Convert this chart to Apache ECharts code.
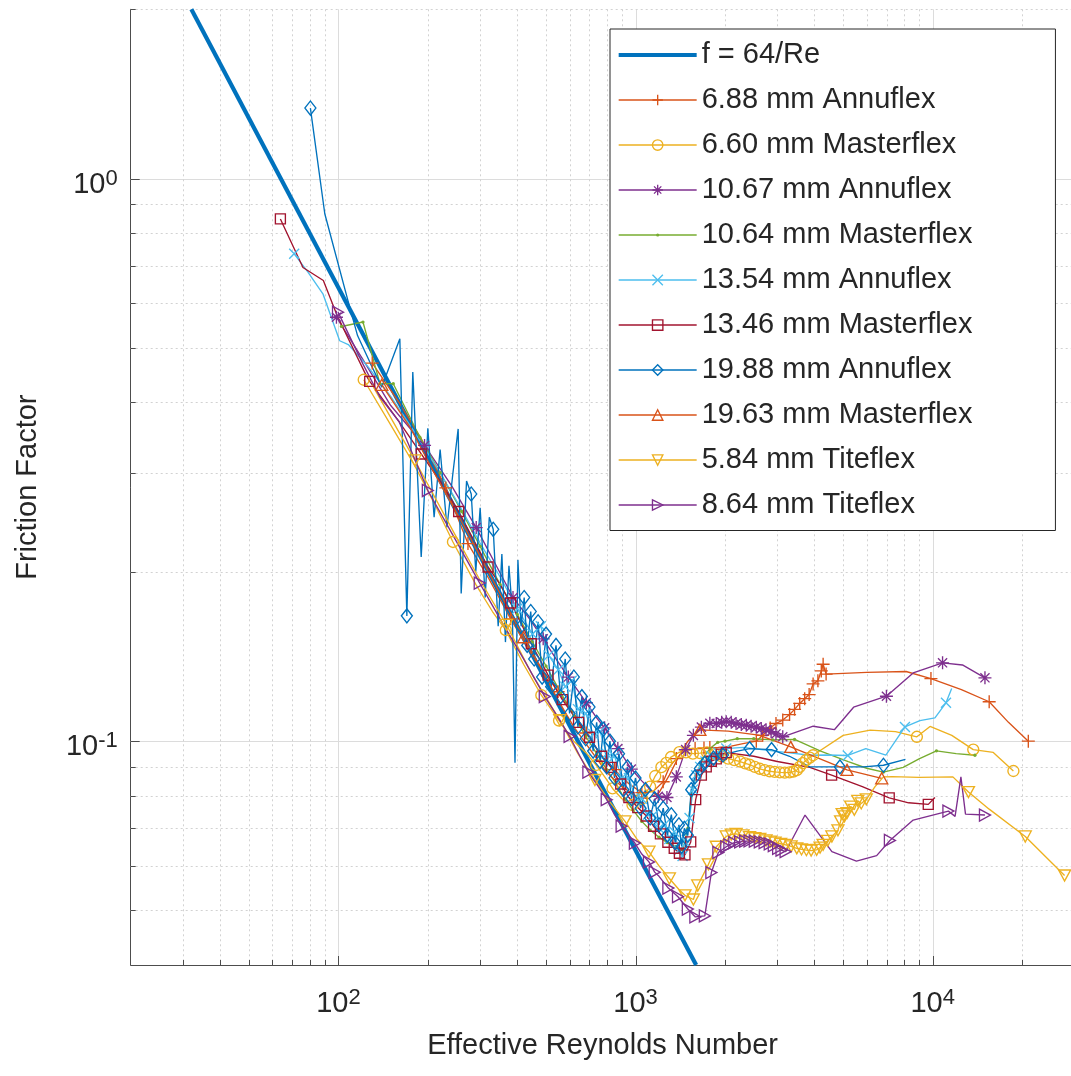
<!DOCTYPE html>
<html><head><meta charset="utf-8">
<script src="https://cdn.jsdelivr.net/npm/echarts@6/dist/echarts.min.js"></script>
<style>html,body{margin:0;padding:0;background:#fff}#c{width:1071px;height:1076px}</style>
</head><body><div id="c"></div>
<script>
// ---------- axis ticks ----------
const xMajorTicks = [100, 1000, 10000];
const yMajorTicks = [0.1, 1];
const xMinorTicks = [30,40,50,60,70,80,90,200,300,400,500,600,700,800,900,2000,3000,4000,5000,6000,7000,8000,9000,20000];
const yMinorTicks = [0.05,0.06,0.07,0.08,0.09,0.2,0.3,0.4,0.5,0.6,0.7,0.8,0.9,2];

// ---------- series names ----------
const seriesNames = ['f = 64/Re','6.88 mm Annuflex','6.60 mm Masterflex','10.67 mm Annuflex','10.64 mm Masterflex','13.54 mm Annuflex','13.46 mm Masterflex','19.88 mm Annuflex','19.63 mm Masterflex','5.84 mm Titeflex','8.64 mm Titeflex'];

// ---------- data: [Re, f, marker shown (1/0)] ----------
const laminar = [[32, 2.0], [1600, 0.04]];

const annu688 = [[130,0.47,1],[160,0.40,0],[190,0.345,0],[230,0.282,1],[273,0.2245,1],[320,0.195,0],[380,0.165,1],[450,0.142,0],[549,0.1224,1],[620,0.112,0],[683,0.1034,1],[760,0.095,0],[850,0.089,1],[950,0.084,0],[1050,0.081,1],[1150,0.0815,0],[1239,0.0847,1],[1300,0.090,0],[1372,0.0931,1],[1470,0.0965,1],[1587,0.097,1],[1700,0.0972,1],[1779,0.0974,1],[1900,0.0975,0],[2100,0.098,0],[2300,0.099,0],[2550,0.100,1],[2680,0.1024,1],[2840,0.1055,1],[2970,0.1075,1],[3130,0.109,1],[3300,0.1115,1],[3430,0.1139,1],[3570,0.1167,1],[3710,0.119,1],[3840,0.121,1],[3960,0.1264,1],[4110,0.128,1],[4220,0.1333,1],[4280,0.137,1],[4380,0.1316,1],[6000,0.1325,0],[8140,0.133,0],[9870,0.1292,1],[12500,0.1235,0],[15500,0.1175,1],[18000,0.108,0],[20990,0.1,1]];

const master660 = [[121.7,0.439,1],[150,0.365,0],[180,0.31,0],[210,0.265,0],[243,0.226,1],[290,0.19,0],[330,0.17,0],[366,0.1575,1],[420,0.137,0],[482,0.1207,1],[553,0.1088,1],[620,0.100,0],[680,0.0955,0],[737,0.0907,1],[790,0.0862,0],[837,0.0824,1],[900,0.079,0],[977,0.077,1],[1050,0.079,1],[1120,0.083,1],[1165,0.0867,1],[1222,0.0899,1],[1270,0.0915,1],[1317,0.0937,1],[1405,0.0956,1],[1480,0.0955,1],[1560,0.095,1],[1650,0.0952,1],[1740,0.0955,1],[1850,0.0948,1],[1950,0.094,1],[2050,0.0931,1],[2150,0.0925,1],[2250,0.092,1],[2340,0.0913,1],[2420,0.0908,1],[2520,0.090,1],[2620,0.0893,1],[2720,0.0888,1],[2830,0.0884,1],[2940,0.0882,1],[3060,0.088,1],[3180,0.0879,1],[3300,0.088,1],[3400,0.0883,1],[3490,0.0888,1],[3570,0.090,1],[3660,0.0914,1],[3750,0.0925,1],[3860,0.0935,1],[3960,0.0944,1],[5000,0.1024,0],[6160,0.1046,0],[7500,0.104,0],[8850,0.1018,1],[9800,0.1062,0],[11600,0.1024,0],[13700,0.0966,1],[16000,0.0955,0],[18700,0.0885,1]];

const annu1067 = [[98.5,0.567,1],[120,0.48,0],[150,0.395,0],[195,0.3355,1],[240,0.285,0],[291,0.2397,1],[340,0.205,0],[387,0.180,1],[440,0.165,0],[489,0.152,1],[540,0.140,0],[594,0.130,1],[640,0.123,0],[683,0.117,1],[740,0.110,0],[787,0.1056,1],[830,0.101,0],[872,0.097,1],[920,0.093,0],[968,0.0892,1],[1050,0.085,0],[1120,0.082,0],[1193,0.0798,1],[1276,0.0794,1],[1372,0.0864,1],[1475,0.0966,1],[1566,0.1024,1],[1666,0.1059,1],[1779,0.1076,1],[1870,0.1075,1],[1950,0.108,1],[2020,0.1083,1],[2100,0.108,1],[2180,0.1075,1],[2270,0.107,1],[2360,0.1067,1],[2450,0.1063,1],[2550,0.1059,1],[2650,0.1053,1],[2750,0.1048,1],[2860,0.104,1],[2970,0.103,1],[3130,0.1018,1],[3963,0.1063,0],[4670,0.1048,0],[5420,0.1149,0],[6990,0.1202,1],[8600,0.1322,0],[10800,0.1378,1],[12600,0.1366,0],[15000,0.1296,1]];

const master1064 = [[102.4,0.546,1],[121,0.556,1],[138,0.432,1],[153,0.432,1],[188,0.347,1],[220,0.30,1],[260,0.256,1],[300,0.222,1],[350,0.19,1],[400,0.168,1],[450,0.15,1],[500,0.136,1],[560,0.122,1],[620,0.111,1],[680,0.102,1],[740,0.095,1],[800,0.089,1],[860,0.084,1],[920,0.079,1],[980,0.0755,1],[1050,0.072,1],[1120,0.0695,1],[1200,0.0675,1],[1280,0.066,1],[1360,0.065,1],[1443,0.064,1],[1500,0.070,1],[1540,0.080,1],[1600,0.087,1],[1680,0.093,1],[1780,0.097,1],[1890,0.0995,1],[2000,0.100,1],[2200,0.101,1],[2500,0.101,1],[2900,0.1005,1],[3430,0.1007,1],[4200,0.096,0],[5200,0.092,0],[6000,0.0895,0],[6830,0.0881,1],[7960,0.0898,0],[9000,0.093,0],[10300,0.0961,1],[12000,0.095,0],[13880,0.0944,1]];

const annu1354 = [[71,0.735,1],[79,0.682,0],[88.7,0.624,0],[101,0.515,0],[108,0.507,0],[125,0.465,0],[150,0.41,0],[180,0.355,0],[220,0.30,0],[260,0.258,0],[300,0.225,0],[350,0.196,0],[400,0.172,1],[450,0.155,1],[480,0.16,1],[510,0.142,1],[550,0.134,1],[580,0.125,1],[610,0.128,1],[640,0.114,1],[680,0.112,1],[720,0.103,1],[760,0.104,1],[800,0.095,1],[850,0.094,1],[900,0.086,1],[950,0.086,1],[1000,0.079,1],[1050,0.079,1],[1100,0.074,1],[1150,0.074,1],[1200,0.07,1],[1250,0.071,1],[1300,0.067,1],[1350,0.069,1],[1400,0.064,1],[1440,0.0625,1],[1480,0.066,1],[1520,0.073,1],[1560,0.082,1],[1600,0.087,1],[1650,0.09,1],[1720,0.092,1],[1800,0.094,1],[1900,0.0955,1],[2020,0.097,1],[2300,0.0975,0],[2700,0.0965,0],[3200,0.0955,0],[3860,0.0944,0],[4400,0.0945,0],[5180,0.0943,1],[5960,0.097,0],[6960,0.0944,0],[8070,0.106,1],[9060,0.1088,0],[10180,0.110,0],[11090,0.117,1],[11590,0.124,0]];

const master1346 = [[63.8,0.848,1],[76,0.695,0],[89,0.659,0],[98.5,0.575,0],[106,0.53,0],[124,0.447,0],[127.5,0.436,1],[160,0.37,0],[190,0.324,1],[220,0.29,0],[254,0.256,1],[285,0.228,0],[319,0.204,1],[350,0.19,0],[380,0.176,1],[446,0.149,1],[508,0.131,1],[567,0.1185,1],[643,0.108,1],[700,0.1016,1],[769,0.094,1],[828,0.0898,1],[892,0.0839,1],[950,0.0794,1],[1018,0.0762,1],[1088,0.0736,1],[1150,0.0706,1],[1213,0.0684,1],[1285,0.0661,1],[1350,0.0645,1],[1405,0.0632,1],[1467,0.0628,1],[1534,0.0662,1],[1594,0.0787,1],[1666,0.087,1],[1730,0.090,1],[1800,0.0921,1],[1870,0.093,1],[1944,0.0948,1],[2020,0.0954,1],[2500,0.094,0],[3000,0.092,0],[3860,0.0898,0],[4571,0.087,1],[5800,0.083,0],[7143,0.0793,1],[8300,0.0777,0],[9668,0.0772,1],[10180,0.0794,0]];

const annu1988 = [[80.5,1.335,1],[90,0.866,0],[107.7,0.607,0],[116,0.526,0],[128,0.47,0],[140,0.426,0],[161,0.519,0],[170,0.167,1],[178,0.453,0],[190,0.2125,0],[200,0.36,0],[210,0.25,0],[220,0.33,0],[232,0.24,0],[243,0.30,0],[253,0.359,0],[259,0.183,0],[270,0.29,0],[280,0.275,1],[290,0.20,0],[300,0.26,0],[312,0.18,0],[322,0.25,0],[332,0.238,1],[345,0.16,0],[355,0.215,0],[365,0.15,0],[375,0.205,0],[385,0.17,0],[393,0.0915,0],[402,0.21,0],[412,0.16,1],[422,0.18,1],[432,0.148,1],[444,0.17,1],[456,0.14,1],[470,0.163,1],[485,0.13,1],[500,0.155,1],[520,0.125,1],[540,0.148,1],[560,0.12,1],[580,0.14,1],[600,0.112,1],[620,0.13,1],[640,0.106,1],[660,0.12,1],[680,0.101,1],[700,0.115,1],[720,0.096,1],[740,0.108,1],[760,0.092,1],[780,0.105,1],[800,0.09,1],[820,0.1,1],[850,0.086,1],[880,0.095,1],[910,0.082,1],[940,0.09,1],[970,0.079,1],[1000,0.086,1],[1040,0.076,1],[1080,0.082,1],[1120,0.073,1],[1160,0.079,1],[1200,0.071,1],[1240,0.076,1],[1280,0.068,1],[1320,0.074,1],[1360,0.066,1],[1400,0.071,1],[1430,0.065,1],[1460,0.070,1],[1500,0.068,1],[1540,0.082,1],[1585,0.0864,1],[1647,0.0894,1],[1710,0.0914,1],[1830,0.0933,1],[1970,0.0945,1],[2200,0.096,0],[2420,0.097,1],[2870,0.0966,1],[3300,0.094,0],[3860,0.090,0],[4875,0.090,1],[5850,0.090,0],[6830,0.0906,1],[8100,0.0928,0]];

const master1963 = [[140,0.43,1],[175,0.36,0],[210,0.30,0],[255,0.25,0],[300,0.213,0],[360,0.178,0],[420,0.153,1],[480,0.135,0],[550,0.118,0],[620,0.106,0],[700,0.097,0],[800,0.088,0],[900,0.083,0],[1000,0.080,0],[1100,0.079,0],[1200,0.081,0],[1300,0.087,0],[1400,0.094,0],[1500,0.10,0],[1647,0.1047,1],[2050,0.1042,0],[2600,0.1025,0],[3330,0.0977,1],[5150,0.0889,1],[6740,0.0859,1]];

const tite584 = [[130,0.43,0],[181,0.3155,1],[250,0.23,0],[300,0.193,0],[368,0.161,1],[450,0.131,0],[556,0.109,1],[640,0.095,0],[730,0.0853,1],[820,0.078,0],[922,0.072,1],[1010,0.067,0],[1110,0.0636,1],[1200,0.060,0],[1300,0.057,1],[1400,0.0545,0],[1467,0.0532,1],[1566,0.0523,1],[1620,0.0554,1],[1760,0.0604,1],[1870,0.0649,1],[2020,0.0677,1],[2100,0.0682,1],[2180,0.0684,1],[2300,0.068,1],[2420,0.0675,1],[2520,0.0672,1],[2620,0.067,1],[2750,0.0666,1],[2850,0.0663,1],[2950,0.066,1],[3080,0.0657,1],[3200,0.0654,1],[3340,0.065,1],[3490,0.0645,1],[3620,0.0642,1],[3760,0.064,1],[3900,0.0639,1],[4070,0.0641,1],[4180,0.0647,1],[4280,0.0654,1],[4430,0.0665,1],[4580,0.0677,1],[4800,0.0694,1],[4900,0.072,1],[4960,0.0742,1],[5050,0.0735,1],[5150,0.0745,1],[5300,0.0765,1],[5450,0.0755,1],[5600,0.0783,1],[5750,0.0775,1],[5980,0.0788,1],[6400,0.083,0],[6830,0.0864,0],[7300,0.0865,0],[9000,0.0862,0],[11700,0.0864,0],[13200,0.0812,1],[15500,0.0757,0],[20500,0.0677,1],[23500,0.063,0],[27800,0.0577,1]];

const tite864 = [[99.7,0.579,1],[121,0.468,0],[138,0.409,0],[160,0.37,0],[200,0.279,1],[240,0.235,0],[299,0.191,1],[350,0.165,0],[420,0.14,0],[495,0.120,1],[550,0.11,0],[600,0.102,1],[650,0.094,0],[694,0.0881,1],[750,0.083,0],[800,0.0787,1],[850,0.074,0],[898,0.0706,1],[950,0.068,0],[995,0.0659,1],[1050,0.063,0],[1110,0.061,1],[1160,0.0585,1],[1200,0.0575,0],[1290,0.0548,1],[1390,0.0529,1],[1500,0.0503,1],[1590,0.0487,1],[1711,0.0489,1],[1800,0.0584,1],[1900,0.0634,1],[2020,0.0649,1],[2070,0.0654,1],[2150,0.066,1],[2250,0.0662,1],[2340,0.0664,1],[2420,0.0665,1],[2520,0.0664,1],[2620,0.0662,1],[2720,0.066,1],[2830,0.0657,1],[2920,0.0652,1],[3020,0.0645,1],[3100,0.064,1],[3200,0.0636,1],[3720,0.0739,0],[4580,0.0636,0],[5540,0.0612,0],[6480,0.0626,0],[7180,0.0666,1],[8600,0.0724,0],[11300,0.0751,1],[11900,0.0735,0],[12450,0.0864,0],[12900,0.0742,0],[15000,0.0739,1]];

// ---------- styling ----------
const FONT = '"Liberation Sans", Arial, Helvetica, sans-serif';
const TXT = '#262626';
const SYM = {
  plus: 'path://M5,0L5,10M0,5L10,5',
  circle: 'path://M10,5A5,5,0,1,1,0,5A5,5,0,1,1,10,5Z',
  star: 'path://M5,0L5,10M0,5L10,5M1.5,1.5L8.5,8.5M1.5,8.5L8.5,1.5',
  dot: 'path://M0,0L0,0M10,10L10,10M6.5,5A1.5,1.5,0,1,1,3.5,5A1.5,1.5,0,1,1,6.5,5Z',
  cross: 'path://M0,0L10,10M0,10L10,0',
  square: 'path://M0,0L10,0L10,10L0,10Z',
  diamond: 'path://M5,0L10,6.5L5,13L0,6.5Z',
  up: 'path://M5,0L10,9L0,9Z',
  down: 'path://M0,0L10,0L5,9Z',
  right: 'path://M0,0L9,5L0,10Z'
};

function dataSeries(name, arr, color, sym, size, filled) {
  return {
    name: name, type: 'line', z: 3,
    data: arr.map(p => p[2] ? [p[0], p[1]] : { value: [p[0], p[1]], symbol: 'none' }),
    symbol: sym, symbolSize: size, showSymbol: true, showAllSymbol: true,
    lineStyle: { color: color, width: 1.35 },
    itemStyle: filled ? { color: color } : { color: 'rgba(0,0,0,0)', borderColor: color, borderWidth: 1.35 },
    emphasis: { disabled: true }, animation: false
  };
}

function gridSeries(name, values, dir, major) {
  return {
    name: name, type: 'custom', z: 1, silent: true, animation: false, clip: false,
    data: values.map(v => dir === 'x' ? [v, 1] : [100, v]),
    renderItem: function (params, api) {
      const cs = params.coordSys;
      const ch = [];
      const gridStyle = { stroke: major ? '#dcdcdc' : '#d2d2d2', lineWidth: 1, lineDash: major ? null : [2, 3] };
      const tickStyle = { stroke: '#4d4d4d', lineWidth: 1 };
      const len = major ? 9 : 5;
      if (dir === 'x') {
        const px = Math.round(api.coord([api.value(0), 1])[0]) + 0.5;
        ch.push({ type: 'line', shape: { x1: px, y1: cs.y, x2: px, y2: cs.y + cs.height }, style: gridStyle });
        ch.push({ type: 'line', shape: { x1: px, y1: cs.y + cs.height, x2: px, y2: cs.y + cs.height - len }, style: tickStyle });
      } else {
        const py = Math.round(api.coord([100, api.value(1)])[1]) + 0.5;
        ch.push({ type: 'line', shape: { x1: cs.x, y1: py, x2: cs.x + cs.width, y2: py }, style: gridStyle });
        ch.push({ type: 'line', shape: { x1: cs.x, y1: py, x2: cs.x + len, y2: py }, style: tickStyle });
      }
      return { type: 'group', children: ch };
    }
  };
}

function powLabel(majors) {
  return function (v) {
    for (const m of majors) {
      if (Math.abs(v - m) / m < 1e-6) return '{b|10}{s|' + Math.round(Math.log10(m)) + '}';
    }
    return '';
  };
}
const labelRich = {
  b: { fontSize: 29, lineHeight: 34, color: TXT, fontFamily: FONT },
  s: { fontSize: 22, lineHeight: 16, verticalAlign: 'top', color: TXT, fontFamily: FONT }
};

const specs = [
  [annu688, '#D95319', SYM.plus, 13, false],
  [master660, '#EDB120', SYM.circle, 11, false],
  [annu1067, '#7E2F8E', SYM.star, 13, false],
  [master1064, '#77AC30', SYM.dot, 11, true],
  [annu1354, '#4DBEEE', SYM.cross, 10, false],
  [master1346, '#A2142F', SYM.square, 10, false],
  [annu1988, '#0072BD', SYM.diamond, [11, 14], false],
  [master1963, '#D95319', SYM.up, [12, 11], false],
  [tite584, '#EDB120', SYM.down, [12, 11], false],
  [tite864, '#7E2F8E', SYM.right, [11, 12], false]
];

const series = [
  gridSeries('_xmaj', xMajorTicks, 'x', true),
  gridSeries('_ymaj', yMajorTicks, 'y', true),
  gridSeries('_xmin', xMinorTicks, 'x', false),
  gridSeries('_ymin', yMinorTicks, 'y', false),
  {
    name: seriesNames[0], type: 'line', z: 3, data: laminar, showSymbol: false, symbol: 'none',
    lineStyle: { color: '#0072BD', width: 4.2 }, itemStyle: { color: '#0072BD' },
    emphasis: { disabled: true }, animation: false
  }
];
specs.forEach((s, i) => series.push(dataSeries(seriesNames[i + 1], s[0], s[1], s[2], s[3], s[4])));

const chart = echarts.init(document.getElementById('c'), null, { renderer: 'canvas' });
chart.setOption({
  animation: false,
  backgroundColor: '#fff',
  grid: { left: 130.7, top: 9.3, bottom: 111, right: -3.4, containLabel: false, outerBoundsMode: 'none' },
  xAxis: {
    type: 'log', logBase: 10, min: 20, max: 30000,
    name: 'Effective Reynolds Number', nameLocation: 'middle', nameGap: 66,
    nameTextStyle: { fontSize: 29, color: TXT, fontFamily: FONT },
    axisLine: { show: true, lineStyle: { color: '#4d4d4d', width: 1 } },
    axisTick: { show: false }, splitLine: { show: false }, minorTick: { show: false }, minorSplitLine: { show: false },
    axisLabel: { margin: 22, formatter: powLabel(xMajorTicks), rich: labelRich, hideOverlap: false }
  },
  yAxis: {
    type: 'log', logBase: 10, min: 0.04, max: 2,
    name: 'Friction Factor', nameLocation: 'middle', nameGap: 88, nameRotate: 90,
    nameTextStyle: { fontSize: 29, color: TXT, fontFamily: FONT },
    axisLine: { show: true, lineStyle: { color: '#4d4d4d', width: 1 } },
    axisTick: { show: false }, splitLine: { show: false }, minorTick: { show: false }, minorSplitLine: { show: false },
    axisLabel: { margin: 13, padding: [12, 0, 0, 0], formatter: powLabel(yMajorTicks), rich: labelRich, hideOverlap: false }
  },
  legend: {
    orient: 'vertical', left: 610, top: 29, align: 'left',
    itemWidth: 78, itemHeight: 13, itemGap: 0,
    padding: [3.5, 83, 3, 8],
    borderColor: '#262626', borderWidth: 1, backgroundColor: '#fff',
    selectedMode: false,
    textStyle: { fontSize: 29, color: TXT, fontFamily: FONT, lineHeight: 45 },
    lineStyle: { width: 1.35 },
    itemStyle: { borderWidth: 1.35 },
    data: [{ name: seriesNames[0], icon: 'path://M0,0H78V4H0Z' }].concat(seriesNames.slice(1))
  },
  series: series
});
</script>
</body></html>
